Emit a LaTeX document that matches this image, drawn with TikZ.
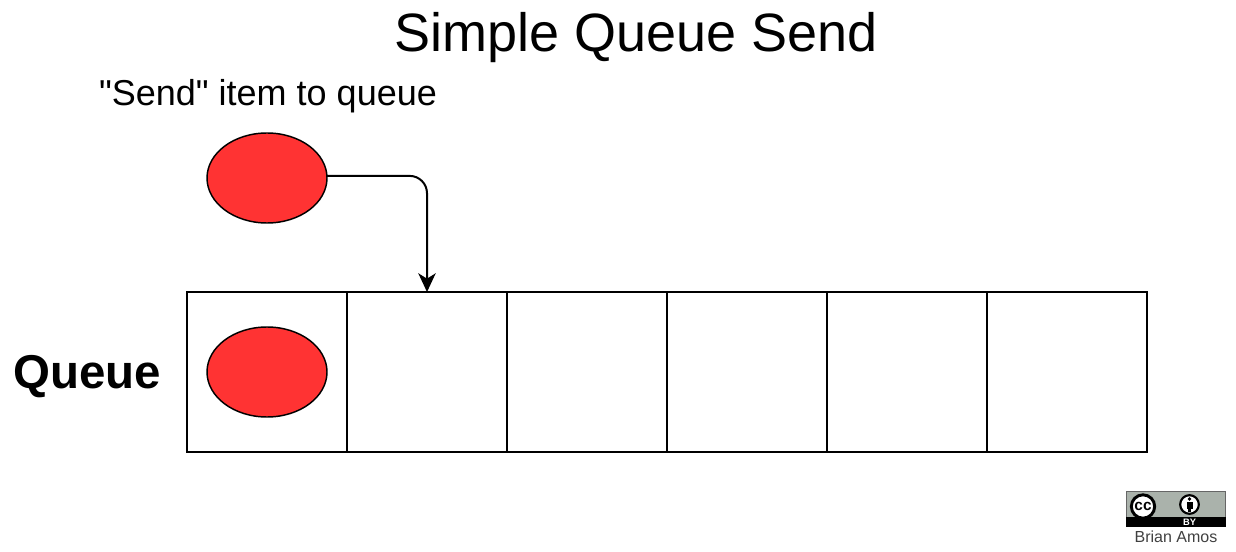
\documentclass[tikz,border=0pt]{standalone}
\usepackage{fontspec}
\newfontfamily\plainfont{Liberation Sans}
\usetikzlibrary{shapes.geometric,arrows.meta}
\definecolor{itemred}{HTML}{FF3333}
\definecolor{badgegrey}{HTML}{AAB2AB}
\tikzset{
  x=0.75pt,y=-0.75pt,
  cell/.style={draw=black,line width=1.5pt,minimum width=120pt,minimum height=120pt,inner sep=0pt,outer sep=0pt},
  item/.style={ellipse,draw=black,line width=1.1pt,fill=itemred,minimum width=90pt,minimum height=67.5pt,inner sep=0pt,outer sep=0pt},
  conn/.style={draw=black,line width=1.5pt,rounded corners=13pt,-{Stealth[length=14pt,width=13pt,inset=4pt]}},
  title/.style={font=\plainfont\fontsize{40.5}{44}\selectfont,inner sep=0pt},
  lab/.style={font=\plainfont\fontsize{27}{30}\selectfont,inner sep=0pt},
  qlab/.style={font=\plainfont\fontsize{35.6}{38}\selectfont\bfseries,inner sep=0pt},
  cclogo/.style={circle,draw=black,line width=2.2pt,fill=white,inner sep=0pt,minimum size=17.5pt,font=\plainfont\fontsize{11.5}{11.5}\selectfont\bfseries},
  bylogo/.style={circle,draw=black,line width=1.6pt,fill=white,inner sep=0pt,minimum size=14pt},
}
\begin{document}
\begin{tikzpicture}
\useasboundingbox (0,0) rectangle (1236,552);
\node[title] (t) at (636,37.5) {Simple Queue Send};
\node[lab] (send) at (268,96) {"Send" item to queue};
\node[qlab] (q) at (87,377) {Queue};
\node[cell] (c1) at (267,372) {};
\node[cell] (c2) at (427,372) {};
\node[cell] (c3) at (587,372) {};
\node[cell] (c4) at (747,372) {};
\node[cell] (c5) at (907,372) {};
\node[cell] (c6) at (1067,372) {};
\node[item] (s) at (267,178) {};
\node[item] (i) at (267,372) {};
\draw[conn] (s.2) -| (c2.north);
% licence badge
\node[draw=black!60,line width=0.5pt,fill=badgegrey,minimum width=74.5pt,minimum height=26.5pt,inner sep=0pt] (badge) at (1175.7,509) {};
\fill[black] (1126,517) rectangle (1226,527);
\node[cclogo] (cc) at (1143,506.5) {cc};
\node[bylogo] (by) at (1189.5,504.5) {};
\fill[black] (1189.5,499) circle (1.8);
\fill[black] (1186.5,502) rectangle (1192.5,508.5);
\fill[black] (1188,508.5) rectangle (1191,512);
\node[text=white,font=\plainfont\fontsize{7}{7}\selectfont\bfseries,inner sep=0pt] (bytext) at (1189.5,522) {BY};
\node[text=black!75,font=\plainfont\fontsize{12}{13}\selectfont,inner sep=0pt] (author) at (1176,537) {Brian Amos};
\end{tikzpicture}
\end{document}
